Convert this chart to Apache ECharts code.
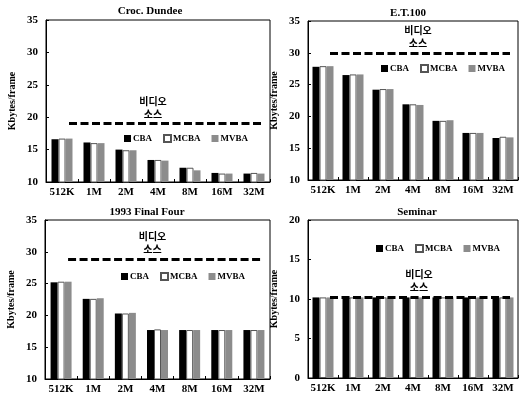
<!DOCTYPE html>
<html>
<head>
<meta charset="utf-8">
<script src="https://cdn.jsdelivr.net/npm/echarts@6/dist/echarts.min.js"></script>
<style>
  html, body { margin: 0; padding: 0; background: #fff; }
  #chart { width: 520px; height: 396px; }
</style>
</head>
<body>
<div id="chart"></div>
<script>
'use strict';
// 데이터
var categories = ['512K', '1M', '2M', '4M', '8M', '16M', '32M'];
var seriesNames = ['CBA', 'MCBA', 'MVBA'];

var crocCBA = [16.6, 16.1, 15.0, 13.4, 12.2, 11.4, 11.3];
var crocMCBA = [16.7, 16.0, 14.9, 13.4, 12.2, 11.3, 11.4];
var crocMVBA = [16.7, 16.0, 14.9, 13.3, 11.8, 11.3, 11.3];
var crocSource = 19.0;

var etCBA = [27.8, 26.5, 24.2, 21.9, 19.3, 17.4, 16.6];
var etMCBA = [27.9, 26.6, 24.3, 21.9, 19.3, 17.4, 16.8];
var etMVBA = [27.9, 26.6, 24.3, 21.8, 19.4, 17.4, 16.7];
var etSource = 30.0;

var finalCBA = [25.2, 22.6, 20.3, 17.7, 17.7, 17.7, 17.7];
var finalMCBA = [25.3, 22.6, 20.3, 17.8, 17.7, 17.7, 17.7];
var finalMVBA = [25.3, 22.7, 20.4, 17.7, 17.7, 17.7, 17.7];
var finalSource = 28.9;

var seminarCBA = [10.2, 10.2, 10.2, 10.2, 10.2, 10.2, 10.2];
var seminarMCBA = [10.2, 10.2, 10.2, 10.2, 10.2, 10.2, 10.2];
var seminarMVBA = [10.2, 10.2, 10.2, 10.2, 10.2, 10.2, 10.2];
var seminarSource = 10.2;

var titles = ['Croc. Dundee', 'E.T.100', '1993 Final Four', 'Seminar'];
var yMins = [10, 10, 10, 0];
var yMaxs = [35, 35, 35, 20];

var FONT = "'Liberation Serif', 'Noto Sans CJK KR', serif";

var panels = [
  { data: [crocCBA, crocMCBA, crocMVBA], source: crocSource,
    grid: { left: 46, top: 20, width: 224, height: 162 },
    title: { left: 150, top: 6 }, legend: { left: 124, top: 134 }, labelOffset: -12 },
  { data: [etCBA, etMCBA, etMVBA], source: etSource,
    grid: { left: 308, top: 21, width: 210, height: 159 },
    title: { left: 408, top: 8 }, legend: { left: 381, top: 64 }, labelOffset: -2 },
  { data: [finalCBA, finalMCBA, finalMVBA], source: finalSource,
    grid: { left: 45, top: 220, width: 225, height: 159 },
    title: { left: 147, top: 207 }, legend: { left: 121, top: 272 }, labelOffset: -12 },
  { data: [seminarCBA, seminarMCBA, seminarMVBA], source: seminarSource,
    grid: { left: 308, top: 220, width: 210, height: 158 },
    title: { left: 417, top: 207 }, legend: { left: 376, top: 244 }, labelOffset: -1 }
];

var barStyles = [
  { color: '#000' },
  { color: '#fff', borderColor: '#555', borderWidth: 1 },
  { color: '#8c8c8c' }
];

var option = {
  backgroundColor: '#fff',
  animation: false,
  title: [],
  legend: [],
  grid: [],
  xAxis: [],
  yAxis: [],
  series: []
};

panels.forEach(function (p, i) {
  option.title.push({
    text: titles[i],
    left: p.title.left,
    top: p.title.top,
    textAlign: 'center',
    padding: 0,
    textStyle: { fontFamily: FONT, fontSize: 11, fontWeight: 'bold', color: '#000' }
  });
  option.legend.push({
    data: seriesNames,
    left: p.legend.left,
    top: p.legend.top,
    padding: 0,
    itemGap: 11,
    itemWidth: 7,
    itemHeight: 7,
    icon: 'rect',
    selectedMode: false,
    textStyle: { fontFamily: FONT, fontSize: 9, fontWeight: 'bold', color: '#000', padding: [0, 0, 0, -3] }
  });
  option.grid.push({
    left: p.grid.left,
    top: p.grid.top,
    width: p.grid.width,
    height: p.grid.height,
    show: true,
    borderColor: '#000',
    borderWidth: 1,
    backgroundColor: 'transparent'
  });
  option.xAxis.push({
    type: 'category',
    gridIndex: i,
    data: categories,
    axisLine: { lineStyle: { color: '#000', width: 1 } },
    axisTick: { show: true, inside: true, length: 3, interval: 0, lineStyle: { color: '#000' } },
    axisLabel: { interval: 0, margin: 5, fontFamily: FONT, fontSize: 11, fontWeight: 'bold', color: '#000' }
  });
  option.yAxis.push({
    type: 'value',
    gridIndex: i,
    min: yMins[i],
    max: yMaxs[i],
    interval: 5,
    name: 'Kbytes/frame',
    nameLocation: 'middle',
    nameGap: 29,
    nameTextStyle: { fontFamily: FONT, fontSize: 10, fontWeight: 'bold', color: '#000' },
    axisLine: { show: true, lineStyle: { color: '#000', width: 1 } },
    axisTick: { show: true, inside: true, length: 3, lineStyle: { color: '#000' } },
    splitLine: { show: false },
    axisLabel: { margin: 8, fontFamily: FONT, fontSize: 11, fontWeight: 'bold', color: '#000' }
  });
  seriesNames.forEach(function (name, k) {
    var s = {
      name: name,
      type: 'bar',
      xAxisIndex: i,
      yAxisIndex: i,
      data: p.data[k],
      barWidth: 7,
      barGap: '0%',
      itemStyle: barStyles[k]
    };
    if (k === 2) {
      // 비디오 소스 점선
      s.markLine = {
        silent: true,
        symbol: ['none', 'none'],
        lineStyle: { color: '#000', width: 3, type: [8, 3.5] },
        label: {
          show: true,
          position: 'middle',
          formatter: '비디오\n소스',
          distance: 2,
          offset: [p.labelOffset, 0],
          fontFamily: FONT,
          fontSize: 10,
          fontWeight: 'bold',
          lineHeight: 13,
          color: '#000'
        },
        data: [[
          { coord: [categories[0], p.source] },
          { coord: [categories[categories.length - 1], p.source] }
        ]]
      };
    }
    option.series.push(s);
  });
});

var myChart = echarts.init(document.getElementById('chart'), null, { renderer: 'canvas' });
myChart.setOption(option);
</script>
</body>
</html>
